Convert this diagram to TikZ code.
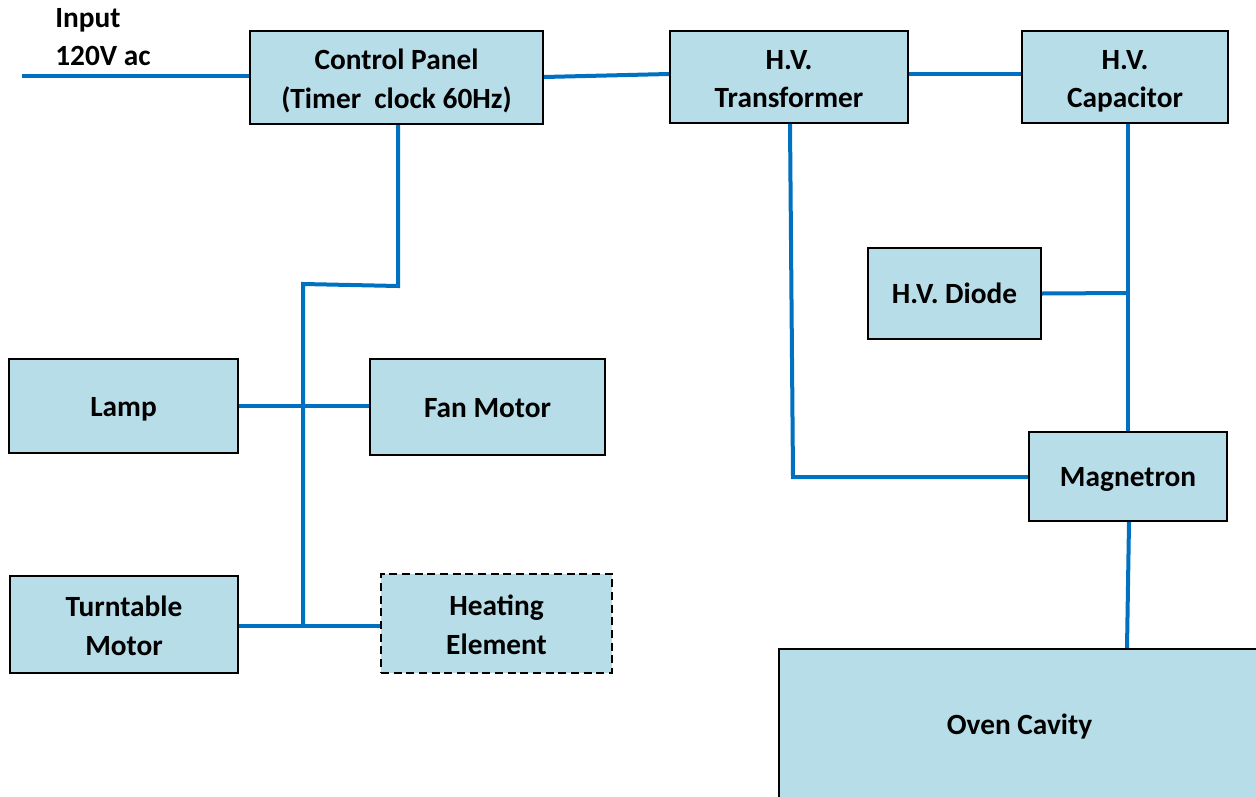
\documentclass[tikz,border=0pt]{standalone}
\usepackage{fontspec}
\setmainfont{Carlito}
\definecolor{boxfill}{HTML}{B7DDE8}
\definecolor{wire}{HTML}{0070C0}
\newcommand\bstrut{\rule[-6pt]{0pt}{27pt}}
\newcommand\tstrut{\rule[-5pt]{0pt}{26.9pt}}
\begin{document}
\begin{tikzpicture}[x=0.75pt,y=-0.75pt,
  blk/.style={draw=black,line width=1.6pt,fill=boxfill,rectangle,inner sep=0pt,align=center,
    font=\fontsize{22}{28.9}\selectfont\bfseries},
  wireline/.style={draw=wire,line width=3pt}]
\useasboundingbox (0,0) rectangle (1256,796);
% boxes
\node[blk,minimum width=293*0.75pt,minimum height=93*0.75pt] (cp) at (396.5,77.5) {\tstrut Control Panel\\\tstrut(Timer\ \ clock 60Hz)};
\node[blk,minimum width=238*0.75pt,minimum height=92*0.75pt] (tr) at (789,77) {\tstrut H.V.\\\tstrut Transformer};
\node[blk,minimum width=206*0.75pt,minimum height=92*0.75pt] (cap) at (1125,77) {\tstrut H.V.\\\tstrut Capacitor};
\node[blk,minimum width=173*0.75pt,minimum height=91*0.75pt] (dio) at (954.5,293.5) {\bstrut H.V. Diode};
\node[blk,minimum width=198*0.75pt,minimum height=89*0.75pt] (mag) at (1128,476.5) {\bstrut Magnetron};
\node[blk,minimum width=481*0.75pt,minimum height=151*0.75pt] (oven) at (1019.5,724.5) {\bstrut Oven Cavity};
\node[blk,minimum width=229*0.75pt,minimum height=94*0.75pt] (lamp) at (123.5,406) {\bstrut Lamp};
\node[blk,minimum width=235*0.75pt,minimum height=96*0.75pt] (fan) at (487.5,407) {\bstrut Fan Motor};
\node[blk,minimum width=228*0.75pt,minimum height=97*0.75pt] (turn) at (124,624.5) {\tstrut Turntable\\\tstrut Motor};
\node[blk,dash pattern=on 6pt off 3.5pt,minimum width=231*0.75pt,minimum height=99*0.75pt] (heat) at (496.5,623.5) {\tstrut Heating\\\tstrut Element};
% input label
\node[inner sep=0pt,anchor=west,align=left,font=\fontsize{22}{29}\selectfont\bfseries] (inp) at (55,37) {Input\\120V ac};
% coordinates
\coordinate (in0) at (22,76);
\coordinate (cpA) at (398,286);
\coordinate (busT) at (303,284);
\coordinate (busB) at (303,626);
\coordinate (capJ) at (1128,293);
\coordinate (trB) at (793,477);
% wires
\draw[wireline] (in0) -- (cp.west |- in0);
\draw[wireline] (cp.east |- 0,77) -- (tr.west |- 0,74);
\draw[wireline] (tr.east |- 0,74) -- (cap.west |- 0,74);
\draw[wireline] (cp.south -| cpA) -- (cpA) -- (busT) -- (busB);
\draw[wireline] (lamp.east) -- (fan.west |- lamp.east);
\draw[wireline] (turn.east |- busB) -- (heat.west |- busB);
\draw[wireline] (cap.south -| capJ) -- (mag.north -| capJ);
\draw[wireline] (dio.east) -- (capJ);
\draw[wireline] (tr.south -| 790,0) -- (trB) -- (mag.west |- trB);
\draw[wireline] (mag.south -| 1129,0) -- (oven.north -| 1127,0);
\end{tikzpicture}
\end{document}
